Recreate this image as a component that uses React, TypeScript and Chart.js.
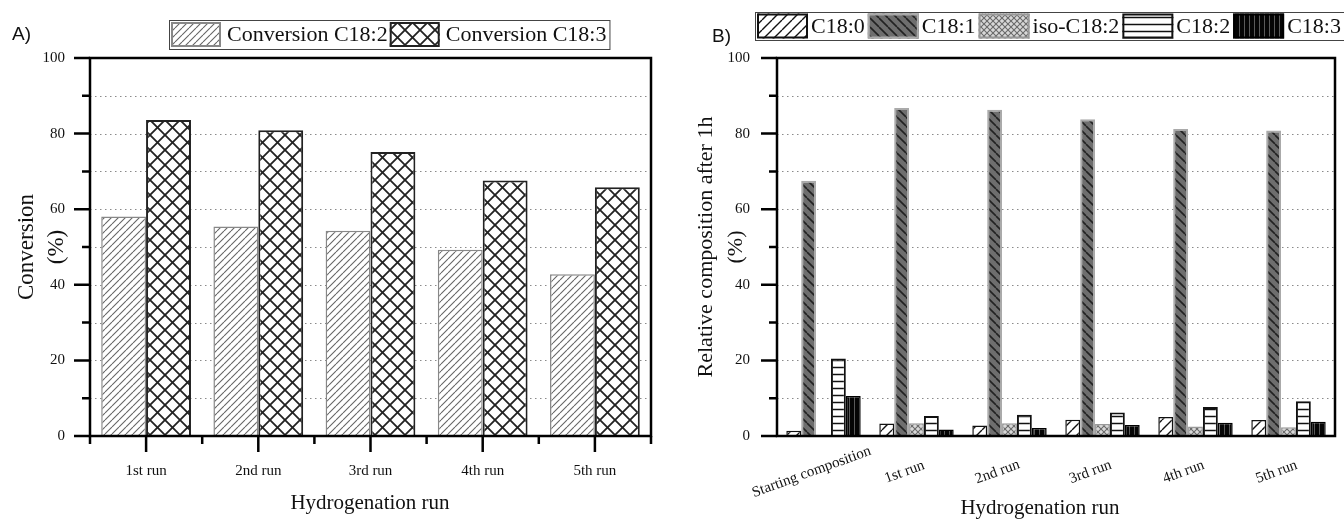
import React, { useEffect, useRef } from "react";
import { Chart, registerables } from "chart.js";
Chart.register(...registerables);

// ---------- data ----------
const runsA = ["1st run", "2nd run", "3rd run", "4th run", "5th run"];
const convC182 = [58.1, 55.4, 54.3, 49.3, 42.8];
const convC183 = [83.6, 80.9, 75.1, 67.6, 65.8];

const runsB = ["Starting composition", "1st run", "2nd run", "3rd run", "4th run", "5th run"];
const c180 = [1.4, 3.3, 2.8, 4.3, 5.0, 4.2];
const c181 = [67.5, 86.8, 86.3, 83.8, 81.2, 80.8];
const isoC182 = [0, 3.4, 3.4, 3.2, 2.5, 2.3];
const c182 = [20.5, 5.3, 5.6, 6.2, 7.7, 9.2];
const c183 = [10.6, 1.7, 2.1, 2.9, 3.5, 3.8];

const yTicksMajor = [0, 20, 40, 60, 80, 100];
const yTicksMinor = [10, 30, 50, 70, 90];
const gridValues = [10, 20, 30, 40, 50, 60, 70, 80, 90];

const SERIF = "'Liberation Serif', 'Times New Roman', serif";
const SANS = "'Liberation Sans', Arial, sans-serif";

// ---------- patterns ----------
function makePattern(w: number, h: number, bg: string | null, draw: (x: CanvasRenderingContext2D, w: number, h: number) => void) {
  const c = document.createElement("canvas");
  c.width = w;
  c.height = h;
  const x = c.getContext("2d") as CanvasRenderingContext2D;
  if (bg) {
    x.fillStyle = bg;
    x.fillRect(0, 0, w, h);
  }
  draw(x, w, h);
  return x.createPattern(c, "repeat") as CanvasPattern;
}
const slashes = (color: string, lw: number) => (x: CanvasRenderingContext2D, w: number, h: number) => {
  x.strokeStyle = color;
  x.lineWidth = lw;
  x.beginPath();
  for (let k = -1; k <= 1; k++) {
    x.moveTo(k * w, h);
    x.lineTo(k * w + w, 0);
  }
  x.stroke();
};
const backslashes = (color: string, lw: number) => (x: CanvasRenderingContext2D, w: number, h: number) => {
  x.strokeStyle = color;
  x.lineWidth = lw;
  x.beginPath();
  for (let k = -1; k <= 1; k++) {
    x.moveTo(k * w, 0);
    x.lineTo(k * w + w, h);
  }
  x.stroke();
};
const crosses = (color: string, lw: number) => (x: CanvasRenderingContext2D, w: number, h: number) => {
  slashes(color, lw)(x, w, h);
  backslashes(color, lw)(x, w, h);
};
const hlines = (color: string, lw: number) => (x: CanvasRenderingContext2D, w: number, h: number) => {
  x.strokeStyle = color;
  x.lineWidth = lw;
  x.beginPath();
  x.moveTo(0, h / 2);
  x.lineTo(w, h / 2);
  x.stroke();
};
const vlines = (color: string, lw: number) => (x: CanvasRenderingContext2D, w: number, h: number) => {
  x.strokeStyle = color;
  x.lineWidth = lw;
  x.beginPath();
  x.moveTo(w / 2, 0);
  x.lineTo(w / 2, h);
  x.stroke();
};

// ---------- shared drawing plugin ----------
type LegendSpec = { x: number; top: number; height: number; sw: number; sh: number; font: string; gapBefore: number; gapAfter: number };
type FrameCfg = {
  panelLabel: string;
  panelX: number;
  panelY: number;
  legend: LegendSpec;
  yTitle: string[];
  yTitleX: number[];
  yTitleFont: string;
  xTitle: string;
  xTitleX: number;
  xTitleY: number;
  xTitleFont: string;
  xTicks: boolean;
  rotatedLabels: string[] | null;
};

function framePlugin(cfg: FrameCfg) {
  return {
    id: "frame",
    beforeDatasetsDraw(chart: any) {
      const { ctx, chartArea } = chart;
      const ys = chart.scales.y;
      ctx.save();
      ctx.strokeStyle = "#8a8a8a";
      ctx.lineWidth = 1;
      ctx.setLineDash([1.5, 3.5]);
      gridValues.forEach((v) => {
        const y = Math.round(ys.getPixelForValue(v)) + 0.5;
        ctx.beginPath();
        ctx.moveTo(chartArea.left, y);
        ctx.lineTo(chartArea.right, y);
        ctx.stroke();
      });
      ctx.restore();
    },
    afterDatasetsDraw(chart: any) {
      const { ctx, chartArea } = chart;
      const ys = chart.scales.y;
      const xs = chart.scales.x;
      const { left, right, top, bottom } = chartArea;
      ctx.save();
      ctx.strokeStyle = "#000";
      ctx.lineWidth = 2.5;
      ctx.setLineDash([]);
      ctx.strokeRect(left, top, right - left, bottom - top);
      ctx.beginPath();
      yTicksMajor.forEach((v) => {
        const y = ys.getPixelForValue(v);
        ctx.moveTo(left - 16, y);
        ctx.lineTo(left, y);
      });
      yTicksMinor.forEach((v) => {
        const y = ys.getPixelForValue(v);
        ctx.moveTo(left - 8, y);
        ctx.lineTo(left, y);
      });
      if (cfg.xTicks) {
        const n = chart.data.labels.length;
        for (let i = 0; i < n; i++) {
          const x = xs.getPixelForValue(i);
          ctx.moveTo(x, bottom);
          ctx.lineTo(x, bottom + 16);
        }
        for (let i = 0; i <= n; i++) {
          const x = xs.getPixelForValue(i - 0.5);
          ctx.moveTo(x, bottom);
          ctx.lineTo(x, bottom + 8);
        }
      }
      ctx.stroke();
      ctx.restore();
    },
    afterDraw(chart: any) {
      const { ctx, chartArea } = chart;
      const xs = chart.scales.x;
      ctx.save();
      ctx.fillStyle = "#111";
      // panel label
      ctx.font = `19px ${SANS}`;
      ctx.textAlign = "left";
      ctx.textBaseline = "middle";
      ctx.fillText(cfg.panelLabel, cfg.panelX, cfg.panelY);

      // legend
      const L = cfg.legend;
      ctx.font = L.font;
      let x = L.x + 2;
      const sy = L.top + (L.height - L.sh) / 2;
      chart.data.datasets.forEach((ds: any) => {
        ctx.fillStyle = ds.backgroundColor;
        ctx.fillRect(x, sy, L.sw, L.sh);
        ctx.strokeStyle = ds.borderColor;
        ctx.lineWidth = 2;
        ctx.strokeRect(x + 1, sy + 1, L.sw - 2, L.sh - 2);
        x += L.sw + L.gapBefore;
        ctx.fillStyle = "#111";
        ctx.textAlign = "left";
        ctx.textBaseline = "middle";
        ctx.fillText(ds.label, x, L.top + L.height / 2 + 1);
        x += ctx.measureText(ds.label).width + L.gapAfter;
      });
      ctx.strokeStyle = "#444";
      ctx.lineWidth = 1;
      ctx.strokeRect(L.x + 0.5, L.top + 0.5, x - L.x + 1, L.height);

      // y title
      ctx.fillStyle = "#111";
      ctx.font = cfg.yTitleFont;
      ctx.textAlign = "center";
      ctx.textBaseline = "middle";
      const cy = (chartArea.top + chartArea.bottom) / 2;
      cfg.yTitle.forEach((t, i) => {
        ctx.save();
        ctx.translate(cfg.yTitleX[i], cy);
        ctx.rotate(-Math.PI / 2);
        ctx.fillText(t, 0, 0);
        ctx.restore();
      });

      // x title
      ctx.font = cfg.xTitleFont;
      ctx.fillText(cfg.xTitle, cfg.xTitleX, cfg.xTitleY);

      // rotated category labels
      if (cfg.rotatedLabels) {
        ctx.font = `15px ${SERIF}`;
        cfg.rotatedLabels.forEach((t, i) => {
          const px = xs.getPixelForValue(i) - 12;
          ctx.save();
          ctx.translate(px, chartArea.bottom + 36);
          ctx.rotate((-20 * Math.PI) / 180);
          ctx.fillText(t, 0, 0);
          ctx.restore();
        });
      }
      ctx.restore();
    },
  };
}

function ChartA() {
  const ref = useRef<HTMLCanvasElement>(null);
  useEffect(() => {
    const pA1 = makePattern(7, 7, "#fff", slashes("#666", 1.1));
    const pA2 = makePattern(15, 15, "#fff", crosses("#222", 1.8));
    const chart = new Chart(ref.current as HTMLCanvasElement, {
      type: "bar",
      data: {
        labels: runsA,
        datasets: [
          { label: "Conversion C18:2", data: convC182, backgroundColor: pA1, borderColor: "#888", borderWidth: 1.5, categoryPercentage: 0.8, barPercentage: 1.0 },
          { label: "Conversion C18:3", data: convC183, backgroundColor: pA2, borderColor: "#222", borderWidth: 2, categoryPercentage: 0.8, barPercentage: 1.0 },
        ] as any,
      },
      options: {
        animation: false,
        responsive: false,
        maintainAspectRatio: false,
        layout: { padding: { top: 58, right: 21, left: 0, bottom: 0 } },
        plugins: { legend: { display: false }, tooltip: { enabled: false }, title: { display: false } },
        scales: {
          x: {
            grid: { display: false, drawTicks: false },
            border: { display: false },
            ticks: { color: "#111", font: { family: SERIF, size: 15 }, padding: 26, maxRotation: 0 },
            afterFit: (s: any) => { s.height = 83; },
          },
          y: {
            min: 0,
            max: 100,
            grid: { display: false, drawTicks: false },
            border: { display: false },
            ticks: { stepSize: 20, color: "#111", font: { family: SERIF, size: 15 }, padding: 25 },
            afterFit: (s: any) => { s.width = 90; },
          },
        },
      } as any,
      plugins: [
        framePlugin({
          panelLabel: "A)",
          panelX: 12,
          panelY: 35,
          legend: { x: 169, top: 20, height: 29, sw: 50, sh: 25, font: `22px ${SERIF}`, gapBefore: 6, gapAfter: 2 },
          yTitle: ["Conversion", "(%)"],
          yTitleX: [27, 57],
          yTitleFont: `23px ${SERIF}`,
          xTitle: "Hydrogenation run",
          xTitleX: 370,
          xTitleY: 503,
          xTitleFont: `21px ${SERIF}`,
          xTicks: true,
          rotatedLabels: null,
        }) as any,
      ],
    });
    return () => chart.destroy();
  }, []);
  return <canvas ref={ref} width={672} height={519} style={{ position: "absolute", left: 0, top: 0 }} />;
}

function ChartB() {
  const ref = useRef<HTMLCanvasElement>(null);
  useEffect(() => {
    const p0 = makePattern(10, 10, "#fff", slashes("#111", 1.4));
    const p1 = makePattern(9, 9, "#6e6e6e", backslashes("#222", 1.6));
    const pIso = makePattern(6, 6, "#d8d8d8", crosses("#6a6a6a", 1.1));
    const p2 = makePattern(7, 7, "#fff", hlines("#111", 1.5));
    const p3 = makePattern(5, 5, "#050505", vlines("#5a5a5a", 1));
    const common = { categoryPercentage: 0.8, barPercentage: 1.0 };
    const chart = new Chart(ref.current as HTMLCanvasElement, {
      type: "bar",
      data: {
        labels: runsB,
        datasets: [
          { label: "C18:0", data: c180, backgroundColor: p0, borderColor: "#111", borderWidth: 1.5, ...common },
          { label: "C18:1", data: c181, backgroundColor: p1, borderColor: "#aaa", borderWidth: 2, ...common },
          { label: "iso-C18:2", data: isoC182, backgroundColor: pIso, borderColor: "#999", borderWidth: 1.5, ...common },
          { label: "C18:2", data: c182, backgroundColor: p2, borderColor: "#111", borderWidth: 2, ...common },
          { label: "C18:3", data: c183, backgroundColor: p3, borderColor: "#000", borderWidth: 1.5, ...common },
        ] as any,
      },
      options: {
        animation: false,
        responsive: false,
        maintainAspectRatio: false,
        layout: { padding: { top: 58, right: 9, left: 0, bottom: 0 } },
        plugins: { legend: { display: false }, tooltip: { enabled: false }, title: { display: false } },
        scales: {
          x: {
            grid: { display: false, drawTicks: false },
            border: { display: false },
            ticks: { display: false },
            afterFit: (s: any) => { s.height = 83; },
          },
          y: {
            min: 0,
            max: 100,
            grid: { display: false, drawTicks: false },
            border: { display: false },
            ticks: { stepSize: 20, color: "#111", font: { family: SERIF, size: 15 }, padding: 27 },
            afterFit: (s: any) => { s.width = 105; },
          },
        },
      } as any,
      plugins: [
        framePlugin({
          panelLabel: "B)",
          panelX: 40,
          panelY: 37,
          legend: { x: 83, top: 12, height: 28, sw: 51, sh: 25, font: `22px ${SERIF}`, gapBefore: 3, gapAfter: 3 },
          yTitle: ["Relative composition after 1h", "(%)"],
          yTitleX: [34, 64],
          yTitleFont: `22px ${SERIF}`,
          xTitle: "Hydrogenation run",
          xTitleX: 368,
          xTitleY: 508,
          xTitleFont: `21px ${SERIF}`,
          xTicks: false,
          rotatedLabels: runsB,
        }) as any,
      ],
    });
    return () => chart.destroy();
  }, []);
  return <canvas ref={ref} width={672} height={519} style={{ position: "absolute", left: 672, top: 0 }} />;
}

export default function App() {
  return (
    <div style={{ position: "absolute", left: 0, top: 0, width: 1344, height: 519, background: "#fff", overflow: "hidden" }}>
      <ChartA />
      <ChartB />
    </div>
  );
}
